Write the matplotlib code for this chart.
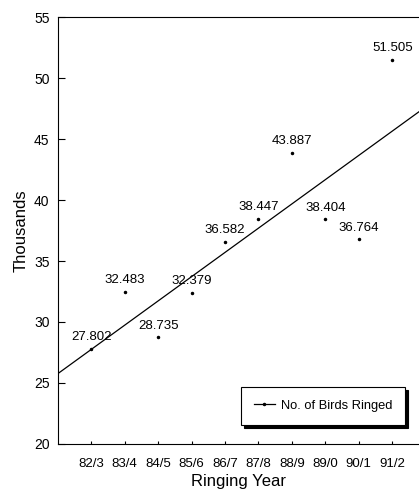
import numpy as np
import matplotlib
matplotlib.use("Agg")
import matplotlib.pyplot as plt
from matplotlib.lines import Line2D

years = ["82/3", "83/4", "84/5", "85/6", "86/7", "87/8", "88/9", "89/0", "90/1", "91/2"]
ringed = [27.802, 32.483, 28.735, 32.379, 36.582, 38.447, 43.887, 38.404, 36.764, 51.505]

plt.rcParams['font.family'] = ['Liberation Sans', 'DejaVu Sans']

x = np.arange(1, len(years) + 1)
fig = plt.figure(figsize=(4.19, 4.93), dpi=100)
ax = fig.add_axes([0.138, 0.0994, 0.862, 0.8661])

ax.plot(x, ringed, linestyle='none', marker='.', markersize=3, color='black')
for xi, yi in zip(x, ringed):
    ax.annotate(f"{yi:.3f}", (xi, yi), xytext=(0, 4), textcoords='offset points',
                ha='center', va='bottom', fontsize=9.5)

# trend line
slope, icpt = np.polyfit(x, ringed, 1)
xt = np.array([0, 11.5])
ax.plot(xt, slope * xt + icpt, color='black', lw=0.9)

ax.set_xlim(0, 10.8)
ax.set_ylim(20, 55)
ax.set_xticks(x)
ax.set_xticklabels(years, fontsize=9.5)
ax.set_yticks(range(20, 56, 5))
ax.tick_params(axis='y', direction='in', length=5, labelsize=10, pad=6)
ax.tick_params(axis='x', direction='in', length=2, pad=10)
ax.spines['right'].set_visible(False)
ax.set_ylabel("Thousands", fontsize=12, labelpad=4)
ax.set_xlabel("Ringing Year", fontsize=12, labelpad=3)

handle = Line2D([], [], color='black', lw=0.9, marker='.', markersize=3)
leg = ax.legend([handle], ['No. of Birds Ringed'], loc='lower right',
                bbox_to_anchor=(0.962, 0.045), borderaxespad=0, fontsize=9.3,
                frameon=True, fancybox=False, shadow={'color': 'black', 'alpha': 1},
                edgecolor='black', handlelength=1.6, handletextpad=0.5, borderpad=1.0)
leg.get_frame().set_linewidth(0.8)

fig.savefig("out.png", dpi=100)
